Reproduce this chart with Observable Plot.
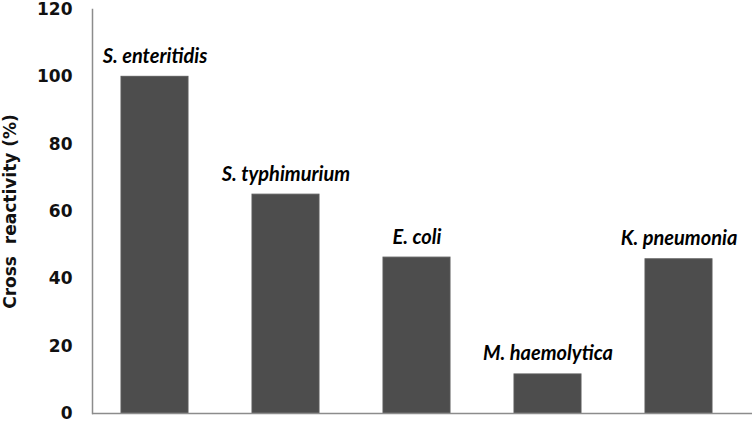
<!DOCTYPE html>
<html>
<head>
<meta charset="utf-8">
<script src="https://cdn.jsdelivr.net/npm/d3@7"></script>
<script src="https://cdn.jsdelivr.net/npm/@observablehq/plot@0.6"></script>
<style>
  html, body { margin: 0; padding: 0; background: #fff; }
</style>
</head>
<body>
<div id="chart"></div>
<script>
const categories = ["S. enteritidis", "S. typhimurium", "E. coli", "M. haemolytica", "K. pneumonia"];
const values = [100, 65, 46.3, 11.6, 45.8];
const yTicks = [0, 20, 40, 60, 80, 100, 120];

const data = categories.map((c, i) => ({category: c, value: values[i]}));

const chart = Plot.plot({
  width: 754,
  height: 425,
  marginTop: 9,
  marginBottom: 12,
  marginLeft: 92,
  marginRight: 2,
  style: {background: "#fff"},
  x: {domain: categories, paddingInner: 0.49, paddingOuter: 0.25, align: 0.42, axis: null},
  y: {domain: [0, 120]},
  marks: [
    Plot.axisY({
      ticks: yTicks,
      tickSize: 0,
      tickPadding: 20,
      label: "Cross  reactivity (%)",
      labelAnchor: "center",
      labelArrow: "none",
      fontFamily: "DejaVu Sans",
      fontWeight: "bold",
      fontSize: 17,
      fill: "#111"
    }),
    Plot.barY(data, {x: "category", y: "value", fill: "#4d4d4d", stroke: "#5a5a5a", strokeWidth: 1}),
    Plot.text(data, {
      x: "category", y: "value", text: "category",
      dy: -14, lineAnchor: "bottom",
      fontFamily: "Lato", fontWeight: "bold", fontStyle: "italic", fontSize: 20,
      fill: "#000"
    }),
    Plot.frame({anchor: "left", stroke: "#8c8c8c", strokeWidth: 1.5}),
    Plot.ruleY([0], {stroke: "#8c8c8c", strokeWidth: 1.5})
  ]
});
document.getElementById("chart").appendChild(chart);
</script>
</body>
</html>
